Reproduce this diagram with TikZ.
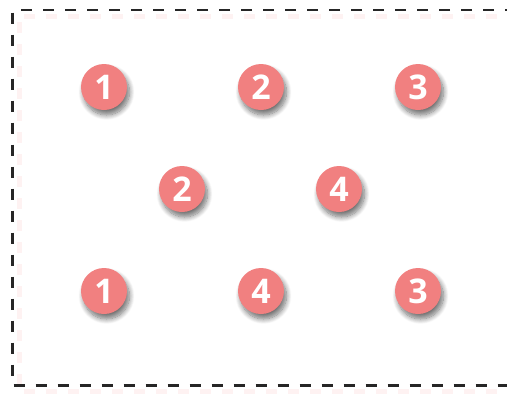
\documentclass[tikz,border=0pt]{standalone}
\usepackage{fontspec}
\setsansfont{Open Sans}
\usetikzlibrary{shadows.blur}
\definecolor{dotpink}{RGB}{241,128,128}
\begin{document}
\begin{tikzpicture}[x=1pt,y=-1pt,
        numdot/.style={circle,fill=dotpink,minimum size=46pt,inner sep=0pt,text=white,
            font=\sffamily\bfseries\fontsize{34}{34}\selectfont,
            blur shadow={shadow xshift=2.5pt,shadow yshift=-5pt,shadow blur radius=5pt,shadow blur steps=10,shadow opacity=55}},
        frame/.style={line width=2.5pt,draw=black!85,dash pattern=on 11pt off 11pt}]
    \useasboundingbox (0,0) rectangle (507,394);
    % faint pink glow of the frame
    \draw[frame,draw=dotpink,opacity=0.1,line width=5pt,dash phase=11pt] (530,16) -- (19,16) -- (19,391) -- (530,391);
    \draw[frame,dash phase=8pt] (530,10) -- (12.5,10) -- (12.5,385.5) -- (530,385.5);
    % numbered dots
    \foreach \ix/\iy/\num [count=\i] in {104/87/1,261/87/2,418/87/3,182/189/2,339/189/4,104/291/1,261/291/4,418/291/3}{
        \node[numdot] (dot\i) at (\ix,\iy) {\num};
    }
\end{tikzpicture}
\end{document}
